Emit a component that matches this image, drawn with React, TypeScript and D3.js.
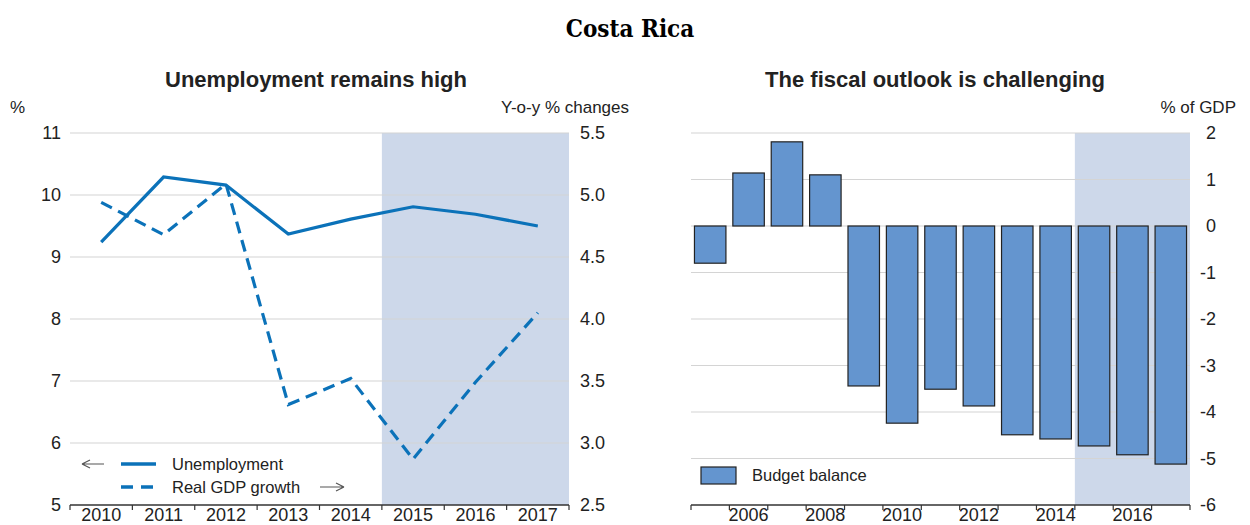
import React from "react";
import * as d3 from "d3";

const lineYears = ["2010", "2011", "2012", "2013", "2014", "2015", "2016", "2017"];
const unemployment = [9.24, 10.29, 10.16, 9.37, 9.61, 9.81, 9.69, 9.5];
const gdpGrowth = [4.94, 4.68, 5.09, 3.31, 3.52, 2.87, 3.49, 4.05];
const leftTicks = [5, 6, 7, 8, 9, 10, 11];
const rightTicks = [2.5, 3.0, 3.5, 4.0, 4.5, 5.0, 5.5];

const barYears = ["2005", "2006", "2007", "2008", "2009", "2010", "2011", "2012", "2013", "2014", "2015", "2016", "2017"];
const budgetBalance = [-0.8, 1.14, 1.81, 1.1, -3.44, -4.24, -3.51, -3.87, -4.49, -4.58, -4.73, -4.92, -5.12];
const barTicks = [-6, -5, -4, -3, -2, -1, 0, 1, 2];
const barLabelYears = ["2006", "2008", "2010", "2012", "2014", "2016"];

const BLUE = "#0b72b9";
const SHADE = "#cdd8ea";
const GRID = "#d4d4d4";
const AXIS = "#333";
const FONT = "'Liberation Sans', Arial, sans-serif";

export default function App() {
  const top = 133, bot = 505;
  // left panel
  const lx = d3.scaleBand().domain(lineYears).range([70, 569]);
  const ly = d3.scaleLinear().domain([5, 11]).range([bot, top]);
  const ry = d3.scaleLinear().domain([2.5, 5.5]).range([bot, top]);
  const cx = (y: string) => (lx(y) as number) + lx.bandwidth() / 2;
  const uLine = d3.line<number>().x((_, i) => cx(lineYears[i])).y((d) => ly(d))(unemployment) as string;
  const gLine = d3.line<number>().x((_, i) => cx(lineYears[i])).y((d) => ry(d))(gdpGrowth) as string;

  // right panel
  const bx = d3.scaleBand().domain(barYears).range([691, 1190]).paddingInner(0.18).paddingOuter(0.09);
  const bxo = d3.scaleBand().domain(barYears).range([691, 1190]);
  const by = d3.scaleLinear().domain([-6, 2]).range([bot, top]);

  const shadeL0 = lx("2015") as number;
  const shadeR0 = bxo("2015") as number;

  const boundsL = lineYears.map((y) => lx(y) as number).concat([569]);
  const boundsR = barYears.map((y) => bxo(y) as number).concat([1190]);

  return (
    <svg width={1250} height={525} style={{ position: "absolute", left: 0, top: 0, background: "#fff" }} fontFamily={FONT}>
      <text x={630} y={37} textAnchor="middle" fontFamily="'DejaVu Serif Condensed', 'DejaVu Serif', serif" fontWeight="bold" fontSize={24} fill="#000">Costa Rica</text>

      {/* Left panel */}
      <text x={316} y={87} textAnchor="middle" fontWeight="bold" fontSize={22} fill="#222">Unemployment remains high</text>
      <text x={10} y={113} fontSize={17} fill="#222">%</text>
      <text x={629} y={113} textAnchor="end" fontSize={17} fill="#222">Y-o-y % changes</text>

      <rect x={shadeL0} y={top} width={569 - shadeL0} height={bot - top} fill={SHADE} />
      {leftTicks.filter((t) => t > 5).map((t) => (
        <line key={t} x1={70} x2={569} y1={ly(t)} y2={ly(t)} stroke={GRID} strokeWidth={1.2} />
      ))}
      {leftTicks.map((t) => (
        <text key={t} x={61} y={ly(t)} dy="0.35em" textAnchor="end" fontSize={18} fill="#222">{t}</text>
      ))}
      {rightTicks.map((t) => (
        <text key={t} x={580} y={ry(t)} dy="0.35em" textAnchor="start" fontSize={18} fill="#222">{t.toFixed(1)}</text>
      ))}
      <line x1={70} x2={569} y1={bot} y2={bot} stroke={AXIS} strokeWidth={1.5} />
      {boundsL.map((b, i) => (
        <line key={i} x1={b} x2={b} y1={bot} y2={bot + 5} stroke={AXIS} strokeWidth={1.2} />
      ))}
      {lineYears.map((y) => (
        <text key={y} x={cx(y)} y={521} textAnchor="middle" fontSize={18} fill="#222">{y}</text>
      ))}

      <path d={uLine} fill="none" stroke={BLUE} strokeWidth={3.2} />
      <path d={gLine} fill="none" stroke={BLUE} strokeWidth={3.2} strokeDasharray="12,7" />

      {/* left legend */}
      <g stroke="#555" strokeWidth={1.2} fill="none">
        <path d="M82,464 L104,464 M82,464 L90,460 M82,464 L90,468" />
        <path d="M320,487 L344,487 M344,487 L336,483 M344,487 L336,491" />
      </g>
      <line x1={121} x2={156} y1={464} y2={464} stroke={BLUE} strokeWidth={3.5} />
      <line x1={121} x2={156} y1={487} y2={487} stroke={BLUE} strokeWidth={3.5} strokeDasharray="12,8" />
      <text x={172} y={470} fontSize={16.5} fill="#222">Unemployment</text>
      <text x={172} y={493} fontSize={16.5} fill="#222">Real GDP growth</text>

      {/* Right panel */}
      <text x={935} y={87} textAnchor="middle" fontWeight="bold" fontSize={22} fill="#222">The fiscal outlook is challenging</text>
      <text x={1236} y={113} textAnchor="end" fontSize={17} fill="#222">% of GDP</text>

      <rect x={shadeR0} y={top} width={1190 - shadeR0} height={bot - top} fill={SHADE} />
      {barTicks.filter((t) => t > -6).map((t) => (
        <line key={t} x1={691} x2={1190} y1={by(t)} y2={by(t)} stroke={GRID} strokeWidth={1.2} />
      ))}
      {barTicks.map((t) => (
        <text key={t} x={1216} y={by(t)} dy="0.35em" textAnchor="end" fontSize={18} fill="#222">{t}</text>
      ))}
      {barYears.map((y, i) => {
        const v = budgetBalance[i];
        const y0 = by(Math.max(0, v));
        const h = Math.abs(by(v) - by(0));
        return (
          <rect key={y} x={bx(y)} y={y0} width={bx.bandwidth()} height={h} fill="#6495cf" stroke="#222" strokeWidth={1.2} />
        );
      })}
      <line x1={691} x2={1190} y1={bot} y2={bot} stroke={AXIS} strokeWidth={1.5} />
      {boundsR.map((b, i) => (
        <line key={i} x1={b} x2={b} y1={bot} y2={bot + 5} stroke={AXIS} strokeWidth={1.2} />
      ))}
      {barLabelYears.map((y) => (
        <text key={y} x={(bxo(y) as number) + bxo.bandwidth() / 2} y={521} textAnchor="middle" fontSize={18} fill="#222">{y}</text>
      ))}

      {/* right legend */}
      <rect x={701} y={467} width={35} height={17} fill="#6495cf" stroke="#222" strokeWidth={1.2} />
      <text x={752} y={481} fontSize={16.5} fill="#222">Budget balance</text>
    </svg>
  );
}
